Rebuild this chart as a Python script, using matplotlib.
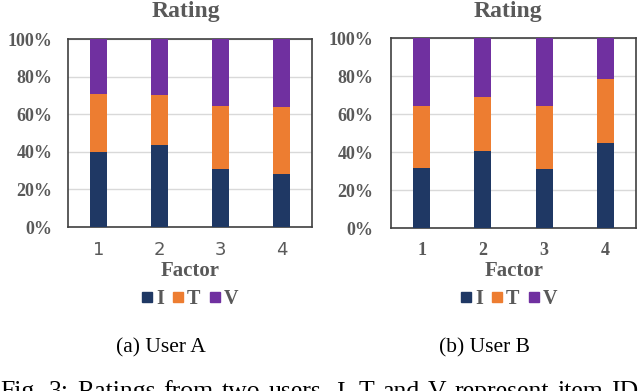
import matplotlib
matplotlib.use("Agg")
import matplotlib.pyplot as plt
from matplotlib.lines import Line2D
import numpy as np

factors = ["1", "2", "3", "4"]
series = ["I", "T", "V"]
userA_I = [40.0, 43.5, 31.0, 28.4]
userA_T = [30.9, 26.8, 33.3, 35.2]
userA_V = [29.1, 29.7, 35.7, 36.4]
userB_I = [31.5, 40.3, 31.0, 44.7]
userB_T = [32.9, 28.7, 33.4, 33.8]
userB_V = [35.6, 31.0, 35.6, 21.5]
yticks = [0, 20, 40, 60, 80, 100]
ytick_labels = ["0%", "20%", "40%", "60%", "80%", "100%"]
colors = ["#1F3864", "#ED7D31", "#7030A0"]
grey = "#595959"
caption = "Fig. 3: Ratings from two users. I, T and V represent item ID"

W, H = 640, 391
fig = plt.figure(figsize=(W / 100, H / 100), dpi=100)

def rect(x0, y0, x1, y1):
    return [x0 / W, 1 - y1 / H, (x1 - x0) / W, (y1 - y0) / H]

serif = "Liberation Serif"

def draw(ax, I, T, V, tick_family, tick_weight, ypad):
    x = np.arange(len(factors))
    ax.bar(x, I, width=0.28, color=colors[0], zorder=3)
    ax.bar(x, T, width=0.28, bottom=I, color=colors[1], zorder=3)
    ax.bar(x, V, width=0.28, bottom=np.array(I) + np.array(T), color=colors[2], zorder=3)
    ax.set_xlim(-0.5, len(factors) - 0.5)
    ax.set_ylim(0, 100)
    ax.set_yticks(yticks)
    ax.set_yticklabels(ytick_labels, fontfamily=serif, fontweight="bold",
                       fontsize=13, color=grey)
    ax.set_xticks(x)
    ax.set_xticklabels(factors, fontfamily=tick_family, fontweight=tick_weight,
                       fontsize=13, color=grey)
    ax.tick_params(axis="both", length=0)
    ax.tick_params(axis="y", pad=ypad)
    ax.tick_params(axis="x", pad=10)
    ax.grid(axis="y", color="#D9D9D9", linewidth=1, zorder=0)
    for s in ax.spines.values():
        s.set_color("#404040")
        s.set_linewidth(1.2)

axA = fig.add_axes(rect(68, 39, 312, 227))
draw(axA, userA_I, userA_T, userA_V, "DejaVu Sans", "normal", 11)
axB = fig.add_axes(rect(391, 38, 636, 228))
draw(axB, userB_I, userB_T, userB_V, serif, "bold", 12.5)

for cx in [186, 508]:
    fig.text(cx / W, 1 - 17 / H, "Rating", ha="center", va="baseline",
             fontfamily=serif, fontweight="bold", fontsize=17, color=grey)

for cx, cap in [(161, "(a) User A"), (484, "(b) User B")]:
    fig.text(cx / W, 1 - 348 / H, cap, ha="center", va="center",
             fontfamily=serif, fontsize=15.5, color="black")

for cx in [190, 514]:
    fig.text(cx / W, 1 - 271 / H, "Factor", ha="center", va="center",
             fontfamily=serif, fontweight="bold", fontsize=15, color=grey)

handles = [Line2D([], [], marker="s", linestyle="none", markersize=6.5,
                  markerfacecolor=c, markeredgecolor=c) for c in colors]
for cx in [190, 509]:
    leg = fig.legend(handles, series, loc="center", bbox_to_anchor=(cx / W, 1 - 299 / H),
                     ncol=3, frameon=False, handlelength=0.5, handletextpad=0.2,
                     columnspacing=0.45, prop={"family": serif, "weight": "bold", "size": 14.5})
    for t in leg.get_texts():
        t.set_color(grey)

# justified caption line (partly cut off at the bottom, as in the reference)
words = caption.split(" ")
renderer = fig.canvas.get_renderer()
texts = [fig.text(0, 1 - 398 / H, w, ha="left", va="baseline", fontfamily=serif,
                  fontsize=18.5, color="black") for w in words]
widths = [t.get_window_extent(renderer).width for t in texts]
left, right = 0.0, 638.0
gap = (right - left - sum(widths)) / (len(words) - 1)
xpos = left
for t, w in zip(texts, widths):
    t.set_x(xpos / W)
    xpos += w + gap

fig.savefig("out.png", dpi=100)
